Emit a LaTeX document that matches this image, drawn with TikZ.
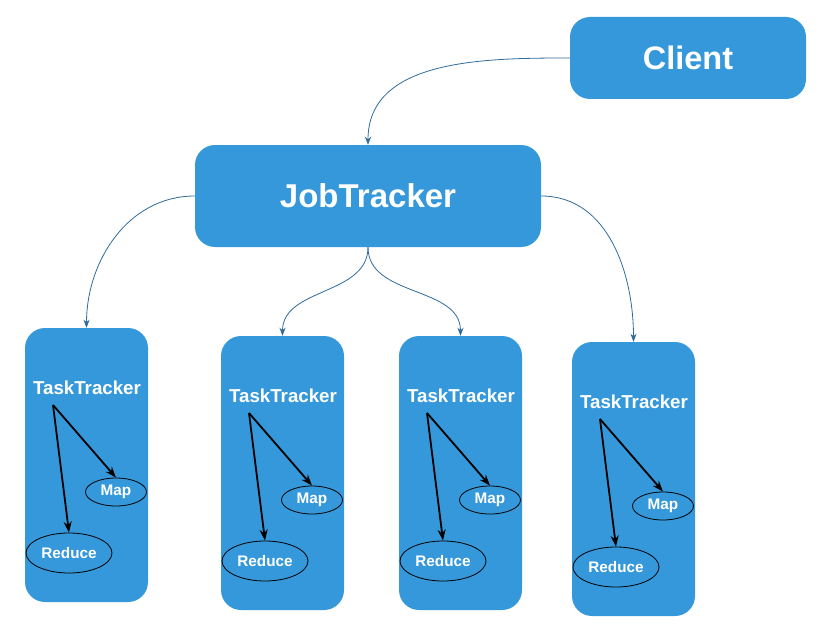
\documentclass[tikz,border=0pt]{standalone}
\usepackage{fontspec}
\setmainfont{Liberation Sans}
\usetikzlibrary{arrows.meta,shapes.geometric}
\definecolor{boxblue}{HTML}{3598DB}
\definecolor{connblue}{HTML}{2E6B9A}
\tikzset{
  bigbox/.style={fill=boxblue, rounded corners=20pt, text=white, font=\bfseries\fontsize{33}{38}\selectfont, inner sep=0pt},
  ttbox/.style={fill=boxblue, rounded corners=20pt, minimum width=123pt, minimum height=274pt, inner sep=0pt},
  tttext/.style={text=white, font=\bfseries\fontsize{18.7}{22}\selectfont, inner sep=0pt},
  ell/.style={ellipse, draw=black, line width=0.8pt, fill=boxblue, text=white, font=\bfseries\fontsize{15.3}{18}\selectfont, inner sep=0pt},
  conn/.style={draw=connblue, line width=0.8pt, -{Stealth[length=8pt,width=6pt,inset=2.5pt]}},
  blk/.style={draw=black, line width=1.8pt, -{Stealth[length=11pt,width=8pt]}}
}
\begin{document}
\begin{tikzpicture}[x=1pt,y=1pt]
\useasboundingbox (0,0) rectangle (831,-642);
\node[bigbox, minimum width=236pt, minimum height=82pt, font=\bfseries\fontsize{32.5}{38}\selectfont] (client) at (688,-58) {Client};
\node[bigbox, minimum width=346pt, minimum height=102pt] (job) at (368,-196) {JobTracker};
\foreach \i/\x/\y in {1/25/328, 2/221/336, 3/399/336, 4/572/342} {
  \begin{scope}[shift={(\x,-\y)}]
    \node[ttbox] (tt\i) at (61.5,-137) {};
    \node[tttext] (ttl\i) at (62,-60) {TaskTracker};
    \coordinate (src\i) at (28,-77);
    \node[ell, minimum width=61pt, minimum height=28pt] (map\i) at (91,-164) {Map};
    \node[ell, minimum width=86pt, minimum height=40pt] (red\i) at (44,-225) {Reduce};
    \draw[blk] (src\i) -- (map\i.north);
    \draw[blk] (src\i) -- (red\i.north);
  \end{scope}
}
\draw[conn] (client.west) to[out=180,in=90] (job.north);
\draw[conn] (job.west) to[out=180,in=90] (tt1.north);
\draw[conn] (job.south) to[out=-90,in=90] (tt2.north);
\draw[conn] (job.south) to[out=-90,in=90] (tt3.north);
\draw[conn] (job.east) to[out=0,in=90] (tt4.north);
\end{tikzpicture}
\end{document}
